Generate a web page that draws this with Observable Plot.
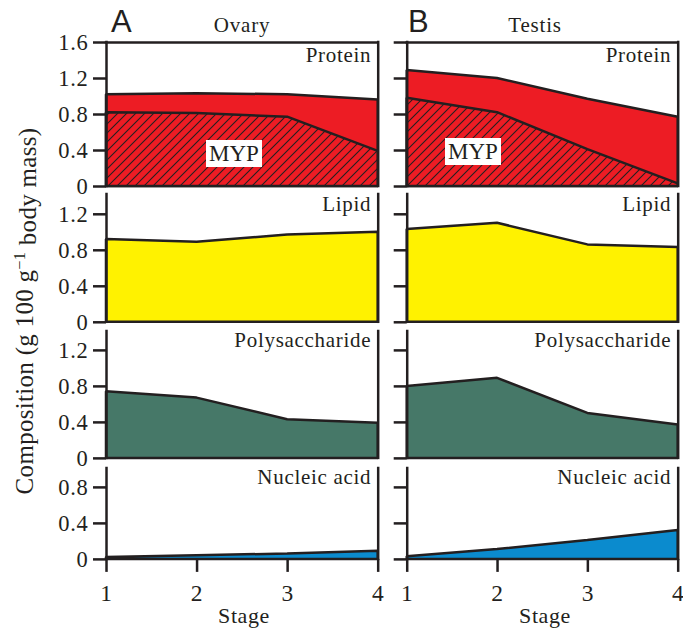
<!DOCTYPE html>
<html>
<head>
<meta charset="utf-8">
<script src="https://cdn.jsdelivr.net/npm/d3@7"></script>
<script src="https://cdn.jsdelivr.net/npm/@observablehq/plot@0.6"></script>
<style>
  html, body { margin: 0; padding: 0; background: #fff; }
  #chart { position: relative; width: 683px; height: 629px; background: #fff; overflow: hidden; }
  #chart > div { position: absolute; }
  #chart svg text { font-family: 'Liberation Serif', 'Times New Roman', serif; }
</style>
</head>
<body>
<div id="chart"></div>
<script>
// ---- data ----
const stages = [1, 2, 3, 4];
const tissues = ["Ovary", "Testis"];
const panelLetters = ["A", "B"];
const components = ["Protein", "Lipid", "Polysaccharide", "Nucleic acid"];
const ovaryProtein = [1.02, 1.03, 1.02, 0.96];
const ovaryMYP = [0.82, 0.81, 0.77, 0.39];
const testisProtein = [1.29, 1.20, 0.97, 0.77];
const testisMYP = [0.98, 0.82, 0.41, 0.03];
const ovaryLipid = [0.92, 0.89, 0.97, 1.00];
const testisLipid = [1.03, 1.10, 0.86, 0.83];
const ovaryPoly = [0.74, 0.67, 0.43, 0.39];
const testisPoly = [0.80, 0.89, 0.50, 0.37];
const ovaryNucleic = [0.02, 0.04, 0.06, 0.09];
const testisNucleic = [0.03, 0.11, 0.21, 0.32];
const yTicks = [[0, 0.4, 0.8, 1.2, 1.6], [0, 0.4, 0.8, 1.2], [0, 0.4, 0.8, 1.2], [0, 0.4, 0.8]];
const yMax = [1.6, 1.42, 1.41, 1.01];
const yLabel = "Composition (g 100 g";
const xLabel = "Stage";

// ---- styling / layout ----
const ink = "#231f20";
const fills = ["#ED1C24", "#FFF200", "#467868", "#0B8BCE"];
const pxPerUnit = 90;
const cols = [
  {left: 0, width: 380, ml: 106, mr: 2.3},
  {left: 380, width: 303, ml: 26.7, mr: 5.3}
];
const rowTops = [41.7, 194, 330.7, 468.3];
const labelDy = [19, 17, 16, 16];
const serif = "'Liberation Serif', 'Times New Roman', serif";
const fmt = d => d === 0 ? "0" : d.toFixed(1);

const values = [
  [ovaryProtein, ovaryLipid, ovaryPoly, ovaryNucleic],
  [testisProtein, testisLipid, testisPoly, testisNucleic]
];
const myp = [ovaryMYP, testisMYP];
const rows = (arr) => stages.map((s, i) => ({stage: s, value: arr[i]}));

const chart = document.getElementById("chart");

// hatch pattern definition
const defs = d3.create("svg").attr("width", 0).attr("height", 0).style("position", "absolute");
const pat = defs.append("defs").append("pattern")
  .attr("id", "hatch").attr("patternUnits", "userSpaceOnUse")
  .attr("width", 9).attr("height", 9);
pat.append("rect").attr("width", 9).attr("height", 9).attr("fill", fills[0]);
pat.append("path").attr("d", "M-1,1 L1,-1 M0,9 L9,0 M8,10 L10,8")
  .attr("stroke", ink).attr("stroke-width", 1.1);
chart.appendChild(defs.node());

cols.forEach((col, c) => {
  components.forEach((comp, r) => {
    const isBottom = r === components.length - 1;
    const marks = [
      Plot.areaY(rows(values[c][r]), {x: "stage", y: "value", fill: fills[r], stroke: ink, strokeWidth: 2.5, strokeLinejoin: "miter"})
    ];
    if (r === 0) {
      marks.push(Plot.areaY(rows(myp[c]), {x: "stage", y: "value", fill: "url(#hatch)", stroke: ink, strokeWidth: 2.5, strokeLinejoin: "miter"}));
      marks.push(Plot.ruleY([yMax[r]], {stroke: ink, strokeWidth: 2.5, strokeLinecap: "square"}));
    }
    marks.push(Plot.ruleX([stages[0]], {stroke: ink, strokeWidth: 2.5, strokeLinecap: "square"}));
    marks.push(Plot.ruleX([stages[stages.length - 1]], {stroke: ink, strokeWidth: 2.5, strokeLinecap: "square"}));
    // y ticks (marks only) + labels as text marks
    marks.push(Plot.axisY({
      ticks: yTicks[r], tickSize: 13, strokeWidth: 2.5, stroke: ink,
      tickFormat: () => "", label: null
    }));
    if (c === 0) {
      marks.push(Plot.text(yTicks[r], {
        y: d => d, text: fmt, frameAnchor: "left", textAnchor: "end",
        dx: -18, fontSize: 22.5, fill: ink
      }));
    }
    if (isBottom) {
      marks.push(Plot.axisX({
        ticks: stages, tickSize: 13, strokeWidth: 2.5, stroke: ink,
        tickFormat: () => "", label: null
      }));
      marks.push(Plot.text(stages, {
        x: d => d, text: d => String(d), frameAnchor: "bottom", lineAnchor: "top",
        dy: 25, fontSize: 23.5, fill: ink
      }));
    }
    marks.push(Plot.text([comp], {
      frameAnchor: "top-right", textAnchor: "end", lineAnchor: "bottom",
      dx: -7, dy: labelDy[r], fontSize: 21, fill: ink
    }));
    const p = Plot.plot({
      width: col.width,
      height: yMax[r] * pxPerUnit,
      marginLeft: col.ml, marginRight: col.mr, marginTop: 0, marginBottom: 0,
      x: {domain: [stages[0], stages[stages.length - 1]], axis: null},
      y: {domain: [0, yMax[r]], axis: null},
      style: {fontFamily: serif, fontSize: "20px", letterSpacing: "0.7px", overflow: "visible", background: "none", color: ink},
      marks
    });
    const wrap = document.createElement("div");
    wrap.style.left = col.left + "px";
    wrap.style.top = rowTops[r] + "px";
    wrap.appendChild(p);
    chart.appendChild(wrap);
  });
});

// overlay text
const ov = d3.create("svg").attr("width", 683).attr("height", 629)
  .style("position", "absolute").style("left", 0).style("top", 0).style("overflow", "visible");
const letterX = [111, 408];
const titleX = [242, 535];
const stageX = [244, 545];
tissues.forEach((t, i) => {
  ov.append("text").attr("x", letterX[i]).attr("y", 31.5)
    .style("font-family", "'Liberation Sans', Arial, sans-serif").attr("font-size", 31)
    .attr("fill", ink).text(panelLetters[i]);
  ov.append("text").attr("x", titleX[i]).attr("y", 32).attr("text-anchor", "middle")
    .attr("font-size", 21).style("letter-spacing", "0.8px")
    .attr("fill", ink).text(t);
  ov.append("text").attr("x", stageX[i]).attr("y", 623).attr("text-anchor", "middle")
    .attr("font-size", 22).style("letter-spacing", "0.6px")
    .attr("fill", ink).text(xLabel);
});
// MYP labels
const mypBox = [{x: 206, y: 140}, {x: 445, y: 138}];
mypBox.forEach(b => {
  ov.append("rect").attr("x", b.x).attr("y", b.y).attr("width", 56).attr("height", 27).attr("fill", "#fff");
  ov.append("text").attr("x", b.x + 28).attr("y", b.y + 21).attr("text-anchor", "middle")
    .attr("font-size", 23).attr("fill", ink).text("MYP");
});
// y label
const yl = ov.append("text").attr("transform", "translate(32.5,311) rotate(-90)")
  .attr("text-anchor", "middle").attr("font-size", 25)
  .style("letter-spacing", "0.3px").attr("fill", ink);
yl.append("tspan").text(yLabel);
yl.append("tspan").attr("dy", "-0.45em").attr("font-size", "0.65em").text("\u22121");
yl.append("tspan").attr("dy", "0.45em").text(" body mass)");
chart.appendChild(ov.node());
</script>
</body>
</html>
